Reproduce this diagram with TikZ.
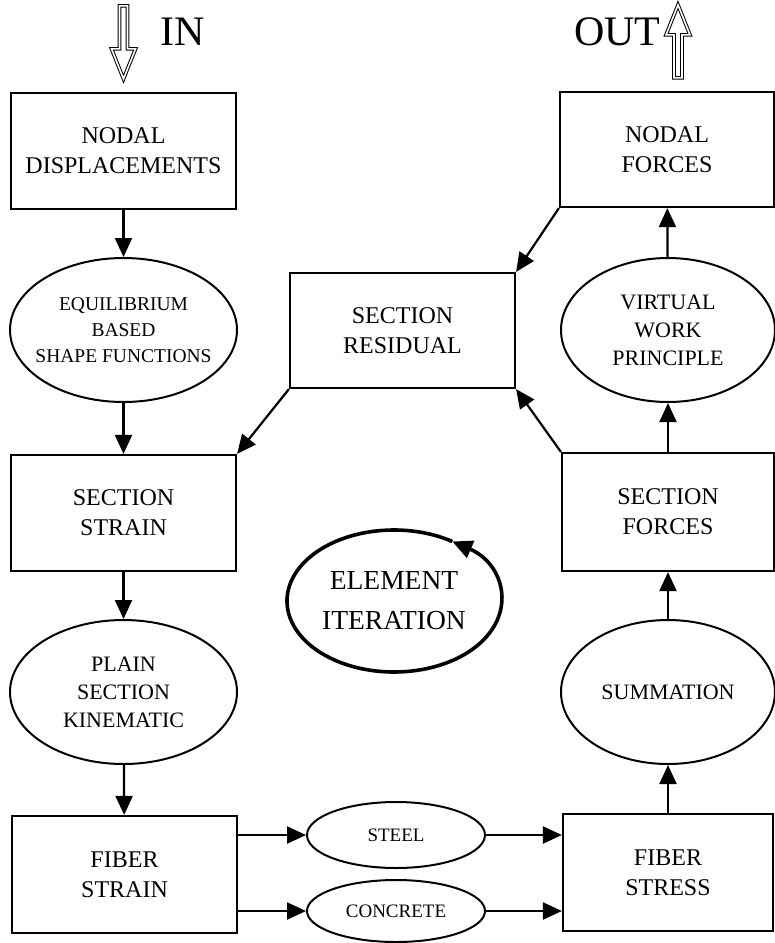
\documentclass[tikz,border=0pt]{standalone}
\usepackage{fontspec}
\setmainfont{Liberation Serif}
\usetikzlibrary{arrows.meta,calc,shapes.geometric}

\begin{document}
\begin{tikzpicture}[x=1pt,y=1pt,
  box/.style={draw,line width=2.2pt,rectangle,inner sep=0pt,align=center,
    font=\fontsize{24}{30}\selectfont},
  oval/.style={draw,line width=2pt,ellipse,inner sep=0pt},
  ovaltext/.style={align=center,inner sep=0pt,font=\fontsize{22}{28}\selectfont},
  smalltext/.style={ovaltext,font=\fontsize{19.5}{26}\selectfont},
  flow/.style={line width=2.2pt,-{Triangle[length=19pt,width=17pt]}},
  hollow/.style={line width=1pt,double,double distance=1.6pt,line join=miter},
  iterloop/.style={line width=3.6pt,-{Triangle[length=20pt,width=18pt]}}]

\useasboundingbox (0,0) rectangle (775,-943);

% left column
\node[box,minimum width=225,minimum height=116] (disp) at (123.5,-151) {NODAL\\DISPLACEMENTS};
\node[oval,minimum width=227,minimum height=144,label={[smalltext]center:EQUILIBRIUM\\BASED\\SHAPE FUNCTIONS}] (equil) at (123.5,-330) {};
\node[box,minimum width=225,minimum height=116] (sstrain) at (123.5,-513) {SECTION\\STRAIN};
\node[oval,minimum width=227,minimum height=144,label={[ovaltext]center:PLAIN\\SECTION\\KINEMATIC}] (plain) at (123.5,-692) {};
\node[box,minimum width=225,minimum height=117] (fstrain) at (124.5,-874.5) {FIBER\\STRAIN};

% materials
\node[oval,minimum width=178,minimum height=66,label={[smalltext,font=\fontsize{19}{24}\selectfont]center:STEEL}] (steel) at (396,-835) {};
\node[oval,minimum width=178,minimum height=62,label={[smalltext,font=\fontsize{19}{24}\selectfont]center:CONCRETE}] (concrete) at (396,-911) {};

% right column
\node[box,minimum width=210,minimum height=117] (fstress) at (668,-872.5) {FIBER\\STRESS};
\node[oval,minimum width=214,minimum height=144,label={[ovaltext]center:SUMMATION}] (summ) at (668,-692) {};
\node[box,minimum width=212,minimum height=118] (sforces) at (668,-512) {SECTION\\FORCES};
\node[oval,minimum width=214,minimum height=144,label={[ovaltext]center:VIRTUAL\\WORK\\PRINCIPLE}] (virt) at (668,-330) {};
\node[box,minimum width=214,minimum height=115] (nforces) at (667,-149.5) {NODAL\\FORCES};

% middle
\node[box,minimum width=225,minimum height=115] (resid) at (402.5,-330.5) {SECTION\\RESIDUAL};
\node[align=center,font=\fontsize{27.5}{40}\selectfont] (iter) at (394,-601) {ELEMENT\\ITERATION};

\node[anchor=base west,font=\fontsize{42}{42}\selectfont,inner sep=0pt] (inlbl) at (160,-45) {IN};
\node[anchor=base west,font=\fontsize{42}{42}\selectfont,inner sep=0pt] (outlbl) at (574,-45) {OUT};

\coordinate (intip) at ($(disp.north)+(0,13)$);
\coordinate (outbase) at ($(nforces.north)+(11,13)$);

\draw[hollow] (intip) -- ++(-12,30) -- ++(8,0) -- ++(0,43) -- ++(8,0) -- ++(0,-43) -- ++(8,0) -- cycle;
\draw[hollow] (outbase) -- ++(-4,0) -- ++(0,43) -- ++(-8,0) -- ++(12,30) -- ++(12,-30) -- ++(-8,0) -- ++(0,-43) -- cycle;

\draw[flow] (disp) -- (equil);
\draw[flow] (equil) -- (sstrain);
\draw[flow] (sstrain) -- (plain);
\draw[flow] (plain) -- (fstrain);

\draw[flow] (fstrain.east |- steel.west) -- (steel.west);
\draw[flow] (fstrain.east |- concrete.west) -- (concrete.west);
\draw[flow] (steel.east) -- (fstress.west |- steel.east);
\draw[flow] (concrete.east) -- (fstress.west |- concrete.east);

\draw[flow] (fstress) -- (summ);
\draw[flow] (summ) -- (sforces);
\draw[flow] (sforces) -- (virt);
\draw[flow] (virt) -- (nforces);

\draw[flow] (nforces.south west) -- (resid.north east);
\draw[flow] (sforces.north west) -- (resid.south east);
\draw[flow] (resid.south west) -- (sstrain.north east);

\draw[iterloop] ($(iter.center)+(57:107 and 71)$) arc[start angle=57,end angle=417,x radius=107,y radius=71];

\end{tikzpicture}
\end{document}
